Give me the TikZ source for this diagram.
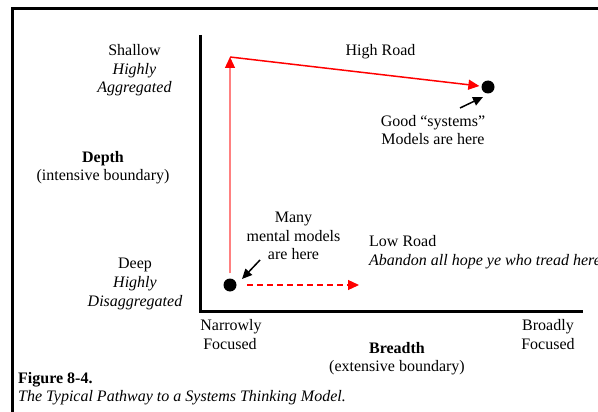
\documentclass[tikz,border=0pt]{standalone}
\usepackage{fontspec}
\setmainfont{Liberation Serif}
\usetikzlibrary{arrows.meta}
\begin{document}
\begin{tikzpicture}[x=1pt,y=-1pt,
  lbl/.style={inner sep=0pt, anchor=base, font=\fontsize{16}{18.6}\selectfont},
  lblw/.style={lbl, anchor=base west},
  axisline/.style={line width=3pt, line join=miter},
  frameline/.style={line width=2.6pt},
  dot/.style={circle, fill=black, inner sep=0pt, minimum size=13pt},
  roadtip/.style={-{Triangle[length=11pt,width=10pt,color=red]}},
  highroad/.style={draw=red, line width=1.5pt, roadtip},
  climb/.style={draw=red!50, line width=1.3pt, roadtip},
  lowroad/.style={draw=red, line width=1.3pt, dash pattern=on 6pt off 4pt, roadtip},
  pointer/.style={draw=black, line width=1.5pt, -{Triangle[length=10pt,width=9pt]}}
]
\useasboundingbox (0,0) rectangle (598,412);
\fill[white] (0,0) rectangle (598,412);

% outer frame (open to the right and bottom)
\draw[frameline] (12.2,420) -- (12.2,8.3) -- (610,8.3);

% axes
\draw[axisline] (200.5,35) -- (200.5,311) -- (583,311);

% depth labels
\node[lbl] (shallow) at (134.5,56) {Shallow};
\node[lbl] (shallowhi) at (134.5,74.5) {\itshape Highly};
\node[lbl] (shallowagg) at (134.5,93) {\itshape Aggregated};
\node[lbl] (depth) at (103,162) {\bfseries Depth};
\node[lbl] (depthsub) at (103,180.5) {(intensive boundary)};
\node[lbl] (deep) at (135,268) {Deep};
\node[lbl] (deephi) at (135,287) {\itshape Highly};
\node[lbl] (deepdis) at (135,306) {\itshape Disaggregated};

% breadth labels
\node[lbl] (narrow) at (231,330) {Narrowly};
\node[lbl] (narrowfoc) at (230,349) {Focused};
\node[lbl] (broad) at (548,330) {Broadly};
\node[lbl] (broadfoc) at (548,349) {Focused};
\node[lbl] (breadth) at (397,353) {\bfseries Breadth};
\node[lbl] (breadthsub) at (397,371.5) {(extensive boundary)};

% model positions
\node[dot] (dotlow) at (230,285) {};
\node[dot] (dothigh) at (488,87) {};
\coordinate (corner) at (230,57);
\coordinate (lowend) at (359,285);

% road labels
\node[lbl] (highlbl) at (380.5,55.7) {High Road};
\node[lblw] (lowlbl) at (369,246.5) {Low Road};
\node[lblw] (lowsub) at (369,265) {\itshape Abandon all hope ye who tread here};

% annotations
\node[lbl] (good1) at (433,126.5) {Good “systems”};
\node[lbl] (good2) at (433,145) {Models are here};
\node[lbl] (many1) at (293.5,222.5) {Many};
\node[lbl] (many2) at (293.5,241) {mental models};
\node[lbl] (many3) at (293.5,259.5) {are here};
\coordinate (goodtail) at (460,108);
\coordinate (goodtip) at (483,97);
\coordinate (manytail) at (260,260);
\coordinate (manytip) at (242,279);

% pathways
\draw[climb, shorten <=5pt] (dotlow) -- (corner);
\draw[highroad, shorten >=2pt] (corner) -- (dothigh);
\draw[lowroad, shorten <=10.5pt] (dotlow) -- (lowend);
\draw[pointer] (goodtail) -- (goodtip);
\draw[pointer] (manytail) -- (manytip);

% caption
\node[lblw] (figno) at (18,383) {\bfseries Figure 8-4.};
\node[lblw] (figcap) at (18,401) {\itshape The Typical Pathway to a Systems Thinking Model.};
\end{tikzpicture}
\end{document}
